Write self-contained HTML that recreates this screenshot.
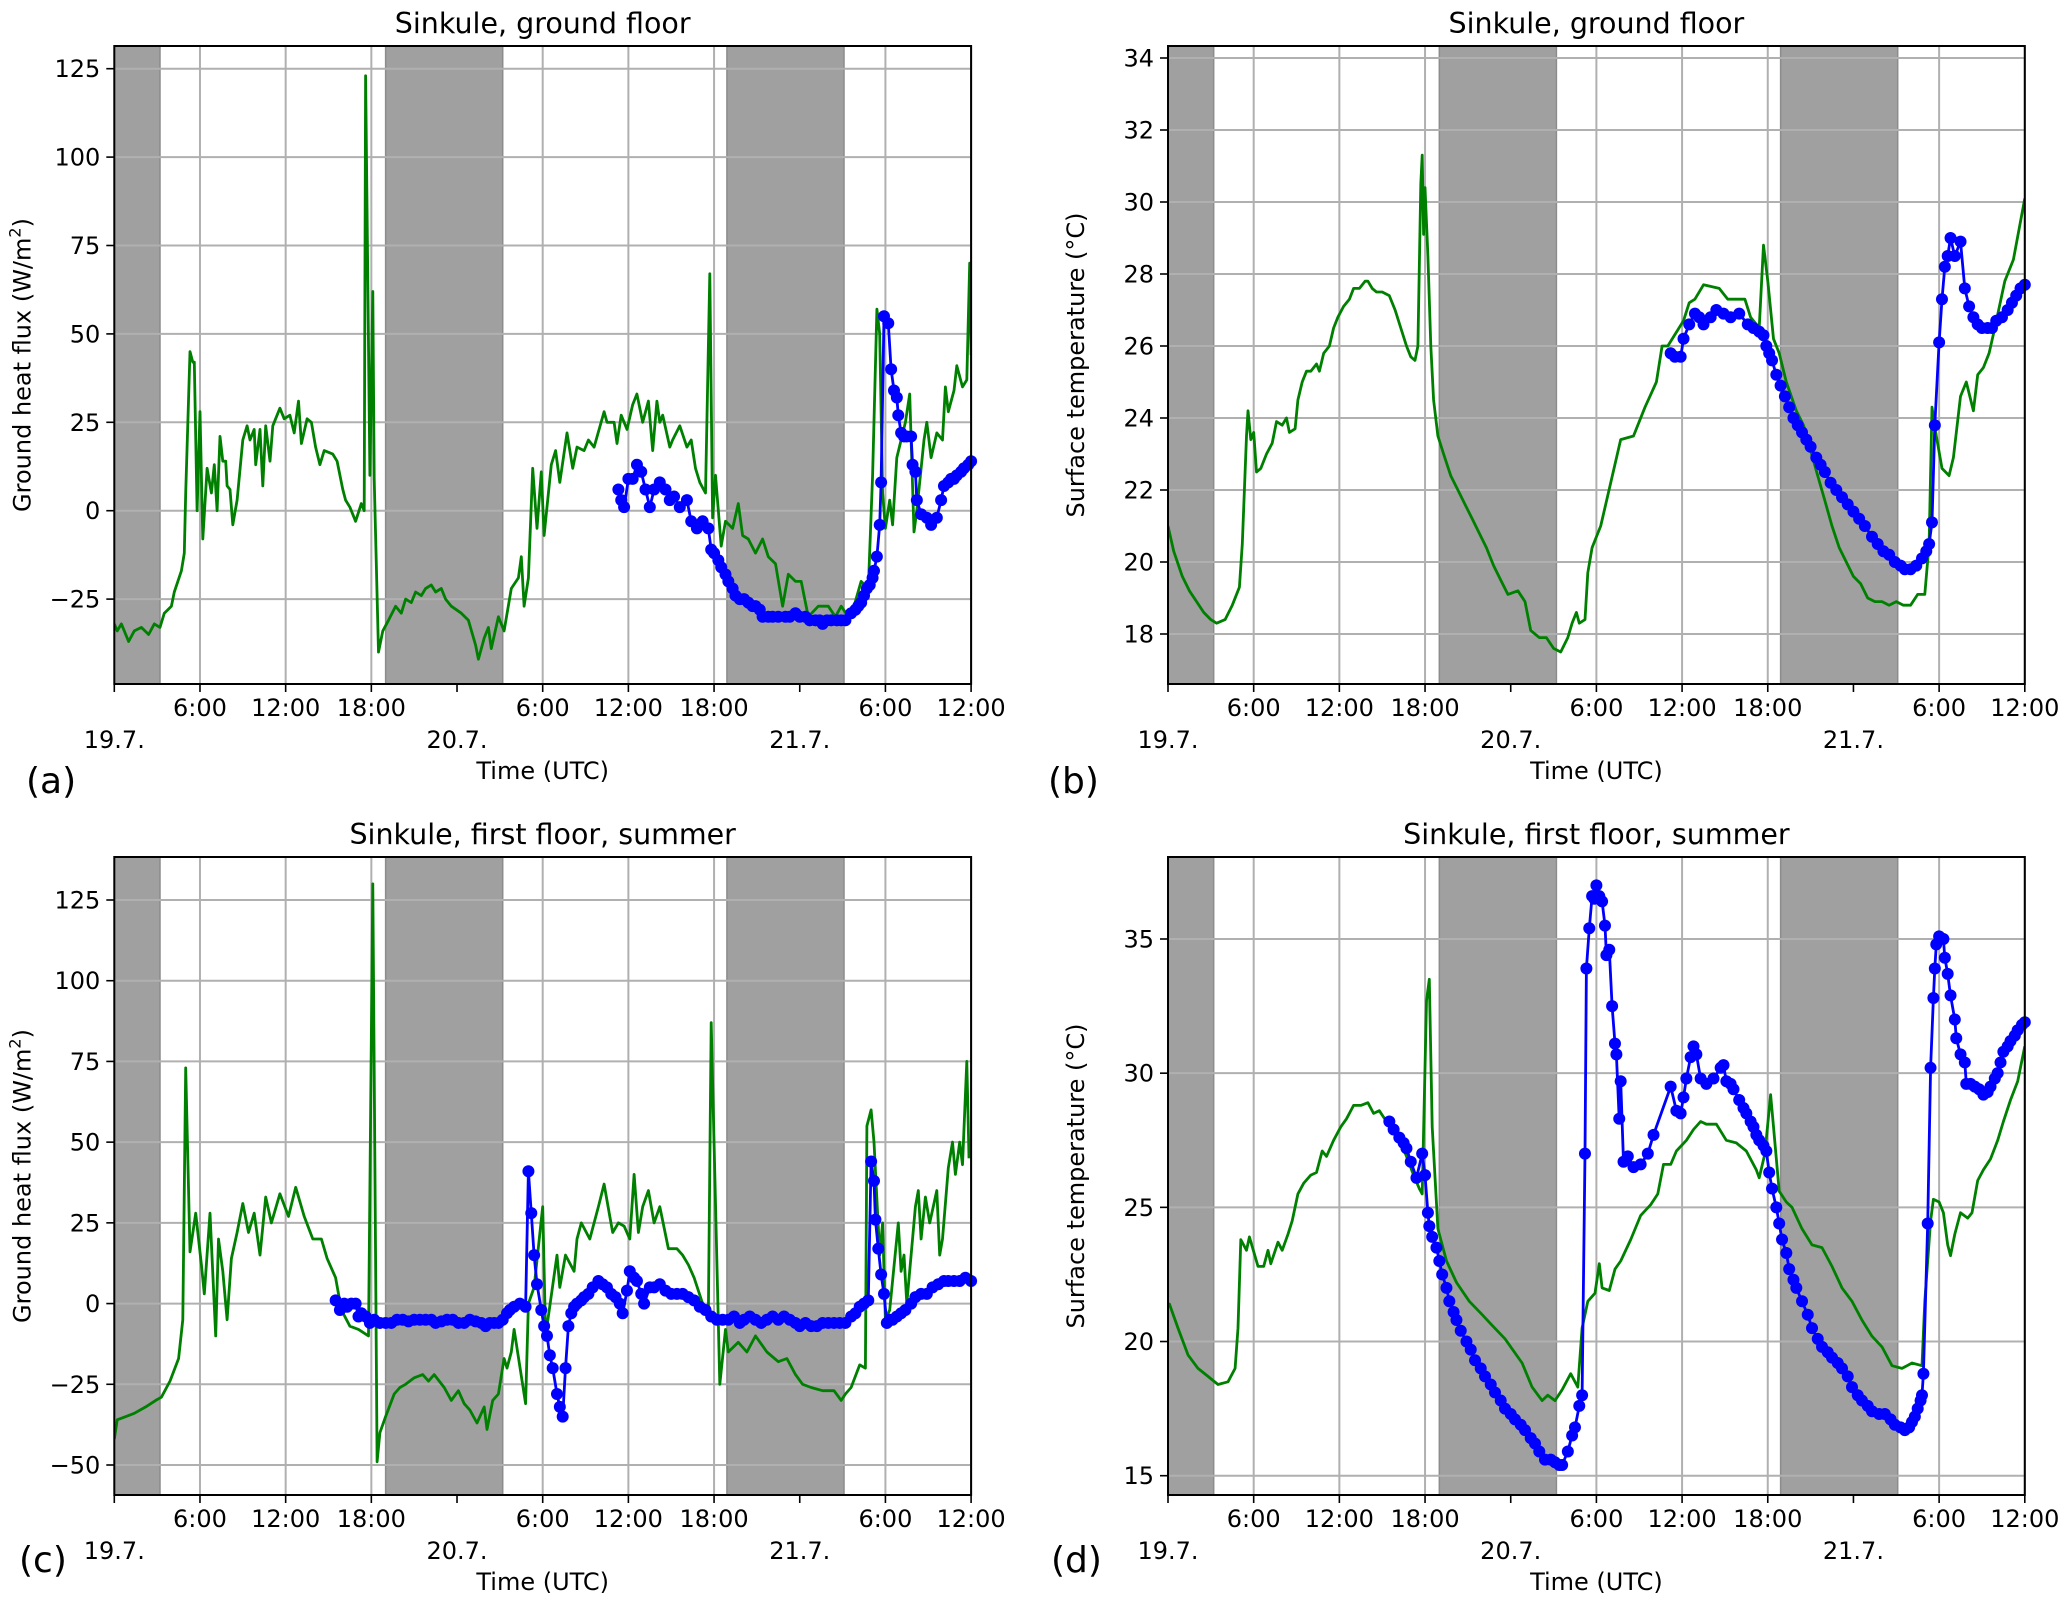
<!DOCTYPE html>
<html><head><meta charset="utf-8">
<style>
html,body{margin:0;padding:0;background:#fff;}
svg{display:block;font-family:"DejaVu Sans","Liberation Sans",sans-serif;}
</style></head>
<body>
<svg id="fig" width="2067" height="1605" viewBox="0 0 2067 1605" xmlns="http://www.w3.org/2000/svg"></svg>
<script>
// ---------- shared axis data ----------
const nightStart = [0, 19.0, 42.9];
const nightEnd = [3.2, 27.2, 51.1];
const hourTicks = [6, 12, 18, 30, 36, 42, 54, 60];
const hourLabels = ["6:00", "12:00", "18:00", "6:00", "12:00", "18:00", "6:00", "12:00"];
const dateTicks = [0, 24, 48];
const dateLabels = ["19.7.", "20.7.", "21.7."];

// ---------- panel (a) ----------
const aYTicks = [-25, 0, 25, 50, 75, 100, 125];
const aGreenT = [0,0.2,0.5,1,1.4,1.9,2.4,2.8,3.2,3.5,4,4.2,4.7,4.9,5.0,5.3,5.5,5.6,5.8,6,6.2,6.5,6.8,7,7.2,7.4,7.6,7.8,7.9,8.1,8.3,8.6,9,9.3,9.5,9.8,9.9,10.2,10.4,10.6,10.9,11.1,11.6,11.9,12.3,12.6,12.9,13.1,13.5,13.8,14.1,14.4,14.7,15.3,15.6,16,16.2,16.5,16.9,17.3,17.5,17.6,17.9,18.1,18.2,18.5,18.8,19.2,19.7,20.1,20.4,20.8,21.1,21.5,21.8,22.2,22.5,22.9,23.2,23.6,24.3,24.8,25.3,25.5,25.9,26.2,26.4,26.9,27.3,27.8,28.3,28.5,28.7,29,29.3,29.6,29.9,30.1,30.6,30.9,31.2,31.7,32.1,32.4,32.9,33.2,33.6,34.3,34.5,35,35.2,35.5,35.9,36.3,36.6,37,37.4,37.7,38,38.2,38.4,38.9,39.1,39.6,40.1,40.4,40.7,41,41.4,41.7,41.9,42.1,42.5,42.8,43.3,43.7,44,44.4,44.9,45.4,45.8,46.3,46.8,47.2,47.7,48.1,48.6,49.3,50,50.5,50.9,51.4,51.8,52.3,52.8,53.1,53.4,53.6,53.8,54,54.3,54.5,54.8,55.1,55.4,55.7,56,56.2,56.7,56.9,57.2,57.6,58,58.2,58.4,58.8,59,59.4,59.7,59.9,60];
const aGreenV = [-32,-34,-32,-37,-34,-33,-35,-32,-33,-29,-27,-23,-17,-12,5,45,42,42,0,28,-8,12,5,13,0,21,14,14,7,6,-4,3,20,24,20,23,13,23,7,24,14,24,29,26,27,22,31,19,26,25,18,13,17,16,14,6,3,1,-3,2,0,123,10,62,9,-40,-34,-31,-27,-29,-25,-26,-23,-24,-22,-21,-23,-22,-25,-27,-29,-31,-38,-42,-36,-33,-39,-30,-34,-22,-19,-13,-27,-19,12,-5,11,-7,13,17,8,22,12,18,17,20,18,28,25,25,19,27,23,30,33,25,31,17,31,25,27,18,20,24,18,20,12,8,5,67,-2,10,-10,-3,-5,2,-7,-8,-12,-8,-13,-15,-27,-18,-20,-20,-30,-27,-27,-30,-27,-30,-27,-20,-22,10,57,50,5,-5,3,-4,15,20,25,33,-6,0,20,25,15,22,20,35,28,34,41,35,37,70,44];
const aBlueT = [35.3,35.5,35.7,36.0,36.3,36.6,36.9,37.2,37.5,37.8,38.2,38.6,38.9,39.2,39.6,40.1,40.4,40.8,41.2,41.6,41.8,42.0,42.3,42.5,42.8,43.0,43.3,43.5,43.8,44.1,44.4,44.7,44.9,45.2,45.4,45.8,46.1,46.5,47.0,47.3,47.7,48.0,48.4,48.7,49.1,49.4,49.6,49.9,50.2,50.6,50.9,51.2,51.6,51.9,52.1,52.3,52.5,52.7,52.9,53.1,53.2,53.4,53.6,53.7,53.9,54.2,54.4,54.6,54.8,54.9,55.1,55.3,55.5,55.8,55.9,56.1,56.2,56.5,56.9,57.2,57.6,57.9,58.1,58.4,58.6,58.8,59,59.3,59.5,59.8,60];
const aBlueV = [6,3,1,9,9,13,11,6,1,6,8,6,3,4,1,3,-3,-5,-3,-5,-11,-12,-14,-16,-18,-20,-22,-24,-25,-25,-26,-27,-27,-28,-30,-30,-30,-30,-30,-30,-29,-30,-30,-31,-31,-31,-32,-31,-31,-31,-31,-31,-29,-28,-27,-26,-24,-22,-21,-19,-17,-13,-4,8,55,53,40,34,32,27,22,21,21,21,13,11,3,-1,-2,-4,-2,3,7,8,9,9,10,11,12,13,14];

// ---------- panel (b) ----------
const bYTicks = [18, 20, 22, 24, 26, 28, 30, 32, 34];
const bGreenT = [0,0.4,1,1.5,2,2.5,3,3.4,4,4.5,5,5.2,5.5,5.6,5.8,6,6.2,6.5,6.9,7.3,7.6,8,8.3,8.5,8.9,9.1,9.4,9.7,10,10.4,10.6,10.9,11.3,11.6,11.9,12.3,12.7,13,13.4,13.8,14,14.3,14.6,15,15.5,15.9,16.3,16.7,17,17.3,17.5,17.7,17.8,17.9,18.0,18.2,18.4,18.6,18.9,19.3,19.8,20.3,20.8,21.3,21.8,22.3,22.8,23.3,23.8,24.5,25,25.4,26,26.5,27,27.5,28,28.3,28.6,28.8,29.2,29.4,29.7,30.3,31,31.7,32.6,33.4,34.2,34.6,35,36.1,36.5,36.9,37.5,38.6,39.2,39.8,40.4,40.8,41.4,41.7,42,42.4,42.8,43.3,44,44.5,45,45.5,46,46.5,47,47.5,48,48.5,49,49.5,50,50.5,51,51.5,52,52.5,53,53.3,53.5,53.8,54.2,54.7,55,55.5,55.9,56.4,56.7,57.1,57.5,57.9,58.6,59.2,60];
const bGreenV = [21,20.3,19.6,19.2,18.9,18.6,18.4,18.3,18.4,18.8,19.3,20.5,23.5,24.2,23.4,23.6,22.5,22.6,23.0,23.3,23.9,23.8,24.0,23.6,23.7,24.5,25.0,25.3,25.3,25.5,25.3,25.8,26.0,26.5,26.8,27.1,27.3,27.6,27.6,27.8,27.8,27.6,27.5,27.5,27.4,27.0,26.5,26.0,25.7,25.6,26.0,30.5,31.3,29.1,30.4,28.5,26.0,24.5,23.5,23.0,22.4,22.0,21.6,21.2,20.8,20.4,19.9,19.5,19.1,19.2,18.9,18.1,17.9,17.9,17.6,17.5,17.9,18.3,18.6,18.3,18.4,19.7,20.4,21.0,22.2,23.4,23.5,24.3,25.0,26.0,26.0,26.7,27.2,27.3,27.7,27.6,27.3,27.3,27.3,26.8,26.5,28.8,27.8,26.2,25.8,25.0,24.2,23.8,23.1,22.4,21.7,21.0,20.4,20.0,19.6,19.4,19.0,18.9,18.9,18.8,18.9,18.8,18.8,19.1,19.1,20.5,24.3,23.5,22.6,22.4,22.9,24.6,25.0,24.2,25.2,25.4,25.8,26.5,27.8,28.4,30.1];
const bBlueT = [35.2,35.5,35.9,36.1,36.5,36.9,37.2,37.5,38.0,38.4,38.9,39.4,40.0,40.6,41.0,41.4,41.7,41.9,42.1,42.3,42.6,42.9,43.2,43.5,43.8,44.1,44.4,44.7,45.0,45.4,45.7,46.0,46.4,46.8,47.2,47.6,48.0,48.4,48.8,49.3,49.7,50.1,50.5,50.9,51.3,51.6,52.0,52.4,52.8,53.1,53.3,53.5,53.7,54.0,54.2,54.4,54.6,54.8,55.1,55.5,55.8,56.1,56.4,56.7,57.0,57.4,57.7,58.0,58.4,58.8,59.1,59.4,59.7,60];
const bBlueV = [25.8,25.7,25.7,26.2,26.6,26.9,26.8,26.6,26.8,27.0,26.9,26.8,26.9,26.6,26.5,26.4,26.3,26.0,25.8,25.6,25.2,24.9,24.6,24.3,24.0,23.8,23.6,23.4,23.2,22.9,22.7,22.5,22.2,22.0,21.8,21.6,21.4,21.2,21.0,20.7,20.5,20.3,20.2,20.0,19.9,19.8,19.8,19.9,20.1,20.3,20.5,21.1,23.8,26.1,27.3,28.2,28.5,29.0,28.5,28.9,27.6,27.1,26.8,26.6,26.5,26.5,26.5,26.7,26.8,27.0,27.2,27.4,27.6,27.7];

// ---------- panel (c) ----------
const cYTicks = [-50, -25, 0, 25, 50, 75, 100, 125];
const cGreenT = [0,0.2,1.4,2.2,2.9,3.3,3.9,4.5,4.8,5.0,5.3,5.7,6.1,6.3,6.7,7.1,7.3,7.6,7.9,8.2,8.6,9.0,9.4,9.8,10.2,10.6,11.0,11.6,12.2,12.7,13.3,13.9,14.5,14.9,15.5,15.9,16.5,17.1,17.8,18.1,18.4,18.6,19.0,19.6,20.0,20.4,21.0,21.6,22.0,22.4,23.1,23.6,24.1,24.5,24.9,25.4,25.9,26.1,26.5,26.9,27.3,27.5,27.8,28.0,28.8,29.0,29.4,30.0,30.2,31.0,31.2,31.6,32.2,32.4,32.7,33.3,33.9,34.3,34.7,34.9,35.3,35.7,36.1,36.4,36.7,37.0,37.4,37.8,38.2,38.8,39.4,39.8,40.2,40.6,41.2,41.6,41.8,42.4,42.8,43.0,43.7,44.3,44.9,45.7,46.5,47.1,47.7,48.2,48.8,49.6,50.4,50.9,51.2,51.6,52.2,52.6,52.7,53.0,53.2,53.6,53.8,54.0,54.3,54.9,55.1,55.3,55.5,56.1,56.3,56.5,56.8,57.1,57.6,57.8,58.0,58.4,58.7,58.9,59.2,59.4,59.7,59.85,60];
const cGreenV = [-42,-36,-34,-32,-30,-29,-24,-17,-5,73,16,28,12,3,28,-10,20,10,-5,14,22,31,22,28,15,33,25,34,27,36,27,20,20,14,8,-2,-7,-8,-10,130,-49,-40,-35,-28,-26,-25,-23,-22,-24,-22,-26,-30,-27,-31,-33,-37,-32,-39,-30,-28,-17,-20,-15,-8,-31,0,5,30,-10,15,5,15,10,20,25,20,30,37,27,22,25,24,20,40,22,30,35,25,30,17,17,15,12,8,0,-5,87,-25,-8,-15,-12,-15,-10,-15,-18,-17,-22,-25,-26,-27,-27,-30,-28,-26,-19,-20,55,60,50,15,25,-5,-2,25,10,15,0,30,35,20,33,25,35,15,20,42,50,40,50,43,75,45];
const cBlueT = [15.5,15.8,16.1,16.3,16.6,16.9,17.1,17.3,17.6,17.9,18.2,18.6,19.0,19.4,19.8,20.2,20.6,21.0,21.4,21.8,22.2,22.5,22.9,23.3,23.7,24.1,24.5,24.9,25.3,25.7,26.0,26.3,26.6,26.9,27.2,27.5,27.7,28.0,28.4,28.8,29.0,29.2,29.4,29.6,29.9,30.1,30.3,30.5,30.7,31.0,31.2,31.4,31.6,31.8,32.0,32.2,32.4,32.7,32.9,33.2,33.5,33.9,34.2,34.5,34.8,35.1,35.4,35.6,35.9,36.1,36.4,36.6,36.9,37.1,37.5,37.8,38.2,38.6,39.0,39.4,39.8,40.2,40.6,41.0,41.4,41.8,42.2,42.6,43.0,43.4,43.8,44.1,44.5,44.9,45.3,45.7,46.1,46.5,46.9,47.3,47.7,48.0,48.4,48.8,49.2,49.6,50.0,50.4,50.8,51.2,51.6,51.9,52.2,52.5,52.8,53.0,53.2,53.3,53.5,53.7,53.9,54.1,54.3,54.5,54.8,55.1,55.4,55.8,56.1,56.5,56.9,57.3,57.7,58.1,58.4,58.8,59.2,59.6,60];
const cBlueV = [1,-2,0,-1,0,0,-4,-3,-4,-6,-5,-6,-6,-6,-5,-5,-5.5,-5,-5,-5,-5,-6,-5.5,-5,-5,-6,-6,-5,-5.5,-6,-7,-6,-6,-6,-5,-3,-2,-1,0,-1,41,28,15,6,-2,-7,-10,-16,-20,-28,-32,-35,-20,-7,-3,-1,0,1,2,3,5,7,6,5,3,2,0,-3,4,10,8,7,3,0,5,5,6,4,3,3,3,2,1,-1,-2,-4,-5,-5,-5,-4,-6,-5,-4,-5,-6,-5,-4,-5,-4,-5,-6,-7,-6,-7,-7,-6,-6,-6,-6,-6,-4,-3,-1,0,1,44,38,26,17,9,3,-6,-5,-5,-4,-3,-2,0,2,3,3,5,6,7,7,7,7,8,7];

// ---------- panel (d) ----------
const dYTicks = [15, 20, 25, 30, 35];
const dGreenT = [0,0.1,0.7,1.4,2.1,2.8,3.5,4.2,4.7,4.9,5.1,5.5,5.7,6.3,6.7,7.0,7.2,7.7,8.0,8.4,8.7,9.1,9.5,10.0,10.4,10.8,11.1,11.6,12.1,12.5,13.0,13.5,14.0,14.4,14.8,15.3,16.0,16.7,17.2,17.6,17.8,18.1,18.3,18.5,18.9,19.5,20.2,21.1,22.0,22.7,23.6,24.8,25.5,26.2,26.6,27.1,27.6,28.2,28.7,29.0,29.4,29.9,30.2,30.4,30.9,31.3,31.7,32.4,33.1,33.8,34.3,34.7,35.2,35.6,36.3,36.8,37.3,37.7,38.4,39.1,39.8,40.5,41.2,41.4,41.8,42.2,42.4,42.8,43.3,43.7,44.4,45.1,45.8,46.5,47.2,47.9,48.6,49.3,50.0,50.7,51.4,52.1,52.8,53.0,53.4,53.6,54.0,54.3,54.6,54.8,55.1,55.5,56.0,56.3,56.7,57.1,57.6,58.1,58.5,59.0,59.5,60];
const dGreenV = [21.4,21.4,20.5,19.5,19.0,18.7,18.4,18.5,19.0,20.5,23.8,23.4,23.9,22.8,22.8,23.4,22.9,23.7,23.4,24.0,24.5,25.5,25.9,26.2,26.3,27.1,26.9,27.5,28.0,28.3,28.8,28.8,28.9,28.5,28.6,28.2,27.8,26.9,26.2,25.7,25.5,32.7,33.5,28.0,24.2,23.0,22.2,21.5,21.0,20.6,20.1,19.2,18.3,17.8,18.0,17.8,18.2,18.8,18.3,20.5,21.5,21.8,22.9,22.0,21.9,22.7,23.0,23.8,24.7,25.1,25.5,26.6,26.6,27.1,27.5,27.9,28.2,28.1,28.1,27.5,27.4,27.1,26.4,26.1,27.0,29.2,28.0,25.6,25.2,25.0,24.2,23.6,23.5,22.8,22.0,21.5,20.8,20.2,19.8,19.1,19.0,19.2,19.1,21.5,24.5,25.3,25.2,24.8,23.6,23.2,24.0,24.8,24.6,24.8,26.0,26.4,26.8,27.5,28.2,29.0,29.7,31.0];
const dBlueT = [15.5,15.8,16.2,16.5,16.7,17.0,17.4,17.8,18.0,18.2,18.3,18.5,18.8,19.0,19.2,19.5,19.7,20.0,20.2,20.5,20.9,21.2,21.5,21.9,22.2,22.6,22.9,23.3,23.6,24.0,24.3,24.7,25.0,25.4,25.7,26.0,26.4,26.8,27.1,27.4,27.6,28.0,28.3,28.5,28.8,29.0,29.2,29.3,29.5,29.7,29.85,30.0,30.2,30.4,30.6,30.7,30.9,31.1,31.3,31.4,31.6,31.7,31.9,32.2,32.6,33.1,33.6,34.0,35.2,35.6,35.9,36.1,36.3,36.6,36.8,37.0,37.3,37.7,38.2,38.7,38.9,39.1,39.4,39.6,40.0,40.3,40.5,40.8,41.0,41.2,41.4,41.7,41.9,42.1,42.3,42.6,42.8,43.0,43.3,43.5,43.8,44.0,44.4,44.8,45.1,45.5,45.8,46.2,46.5,46.9,47.2,47.6,47.9,48.3,48.6,49.0,49.3,49.8,50.2,50.6,50.9,51.3,51.6,51.9,52.1,52.3,52.5,52.7,52.8,52.9,53.2,53.4,53.6,53.7,53.8,54.0,54.3,54.4,54.6,54.8,55.1,55.2,55.5,55.8,55.9,56.2,56.5,56.8,57.1,57.4,57.6,57.9,58.1,58.3,58.5,58.8,59.0,59.3,59.5,59.8,60];
const dBlueV = [28.2,27.9,27.6,27.4,27.2,26.7,26.1,27.0,26.2,24.8,24.3,23.9,23.5,23.0,22.5,22.0,21.5,21.1,20.8,20.4,20.0,19.7,19.3,19.0,18.7,18.4,18.1,17.8,17.5,17.3,17.1,16.9,16.7,16.4,16.2,15.9,15.6,15.6,15.5,15.4,15.4,15.9,16.5,16.8,17.6,18.0,27.0,33.9,35.4,36.6,36.5,37.0,36.6,36.4,35.5,34.4,34.6,32.5,31.1,30.7,28.3,29.7,26.7,26.9,26.5,26.6,27.0,27.7,29.5,28.6,28.5,29.1,29.8,30.6,31.0,30.7,29.8,29.6,29.8,30.2,30.3,29.7,29.6,29.4,29.0,28.7,28.5,28.2,28.0,27.7,27.5,27.3,27.1,26.3,25.7,25.0,24.4,23.8,23.3,22.7,22.3,22.0,21.5,21.0,20.5,20.1,19.8,19.6,19.4,19.2,19.0,18.7,18.3,18.0,17.8,17.6,17.4,17.3,17.3,17.1,16.9,16.8,16.7,16.8,17.0,17.2,17.5,17.8,18.0,18.8,24.4,30.2,32.8,33.9,34.8,35.1,35.0,34.3,33.7,32.9,32.0,31.3,30.7,30.4,29.6,29.6,29.5,29.4,29.2,29.3,29.5,29.8,30.0,30.4,30.8,31.0,31.2,31.4,31.6,31.8,31.9];

// ---------- drawing ----------
const NS = "http://www.w3.org/2000/svg";
const svg = document.getElementById('fig');
function mk(tag, attrs, parent) {
  const e = document.createElementNS(NS, tag);
  for (const k in attrs) e.setAttribute(k, attrs[k]);
  (parent || svg).appendChild(e);
  return e;
}
function txt(s, attrs, parent) { const e = mk('text', attrs, parent); e.textContent = s; return e; }

const panels = [
  {id:'a', L:114.3, T:46, B:684, v1:125, y1:68.7, v2:0, y2:510.7, ticks:aYTicks, gT:aGreenT, gV:aGreenV, bT:aBlueT, bV:aBlueV, title:'Sinkule, ground floor', ylab:'flux', lx:26, ly:793},
  {id:'b', L:1168, T:46, B:684, v1:34, y1:58, v2:18, y2:634, ticks:bYTicks, gT:bGreenT, gV:bGreenV, bT:bBlueT, bV:bBlueV, title:'Sinkule, ground floor', ylab:'temp', lx:1048, ly:793},
  {id:'c', L:114.3, T:857, B:1495, v1:125, y1:900, v2:-50, y2:1465, ticks:cYTicks, gT:cGreenT, gV:cGreenV, bT:cBlueT, bV:cBlueV, title:'Sinkule, first floor, summer', ylab:'flux', lx:19, ly:1572},
  {id:'d', L:1168, T:857, B:1495, v1:35, y1:939, v2:15, y2:1475.7, ticks:dYTicks, gT:dGreenT, gV:dGreenV, bT:dBlueT, bV:dBlueV, title:'Sinkule, first floor, summer', ylab:'temp', lx:1051, ly:1572}
];
const W = 856.8, HPX = W / 60;

panels.forEach(p => {
  const R = p.L + W;
  const X = t => p.L + t * HPX;
  const Y = v => p.y1 + (v - p.v1) * (p.y2 - p.y1) / (p.v2 - p.v1);
  const g = mk('g', {});
  
  
  const clipId = 'clip-' + p.id;
  const cp = mk('clipPath', {id: clipId}, g);
  mk('rect', {x: p.L, y: p.T, width: W, height: p.B - p.T}, cp);

  for (let i = 0; i < nightStart.length; i++) {
    const r = mk('rect', {x: X(nightStart[i]), y: p.T, width: X(nightEnd[i]) - X(nightStart[i]), height: p.B - p.T, fill: '#a0a0a0', stroke: '#8c8c8c', 'stroke-width': 1.5}, g);
    
    
  }
  hourTicks.forEach(t => {
    const l = mk('line', {x1: X(t), x2: X(t), y1: p.T, y2: p.B, stroke: '#b0b0b0', 'stroke-width': 2}, g);
    
    
  });
  p.ticks.forEach(v => {
    const l = mk('line', {x1: p.L, x2: R, y1: Y(v), y2: Y(v), stroke: '#b0b0b0', 'stroke-width': 2}, g);
    
    
  });
  const gp = mk('polyline', {points: p.gT.map((t, i) => X(t).toFixed(1) + ',' + Y(p.gV[i]).toFixed(1)).join(' '), fill: 'none', stroke: '#008000', 'stroke-width': 2.8, 'stroke-linejoin': 'round', 'clip-path': 'url(#' + clipId + ')'}, g);
  
  
  const bp = mk('polyline', {points: p.bT.map((t, i) => X(t).toFixed(1) + ',' + Y(p.bV[i]).toFixed(1)).join(' '), fill: 'none', stroke: '#0000ff', 'stroke-width': 2.8, 'stroke-linejoin': 'round'}, g);
  
  
  p.bT.forEach((t, i) => {
    const c = mk('circle', {cx: X(t), cy: Y(p.bV[i]), r: 6, fill: '#0000ff'}, g);
    
    
  });
  const fr = mk('rect', {x: p.L, y: p.T, width: W, height: p.B - p.T, fill: 'none', stroke: '#000', 'stroke-width': 2}, g);
  
  
  p.ticks.forEach(v => {
    mk('line', {x1: p.L - 8, x2: p.L, y1: Y(v), y2: Y(v), stroke: '#000', 'stroke-width': 1.6}, g);
    const tl = txt(v < 0 ? '\u2212' + Math.abs(v) : String(v), {x: p.L - 14, y: Y(v) + 8.5, 'text-anchor': 'end', 'font-size': 24, fill: '#000'}, g);
    
    
  });
  hourTicks.concat(dateTicks).forEach(t => {
    mk('line', {x1: X(t), x2: X(t), y1: p.B, y2: p.B + 8, stroke: '#000', 'stroke-width': 1.6}, g);
  });
  hourTicks.forEach((t, i) => {
    const tl = txt(hourLabels[i], {x: X(t), y: p.B + 32, 'text-anchor': 'middle', 'font-size': 24, fill: '#000'}, g);
    
    
  });
  dateTicks.forEach((t, i) => {
    const tl = txt(dateLabels[i], {x: X(t), y: p.B + 64, 'text-anchor': 'middle', 'font-size': 24, fill: '#000'}, g);
    
    
  });
  const tt = txt(p.title, {x: p.L + W / 2, y: p.T - 13, 'text-anchor': 'middle', 'font-size': 28.5, fill: '#000'}, g);
  
  
  const xl = txt('Time (UTC)', {x: p.L + W / 2, y: p.B + 95, 'text-anchor': 'middle', 'font-size': 24, fill: '#000'}, g);
  
  
  const yx = p.L - 84, yc = (p.T + p.B) / 2;
  const yl = mk('text', {x: yx, y: yc, 'text-anchor': 'middle', 'font-size': 24, fill: '#000', transform: 'rotate(-90 ' + yx + ' ' + yc + ')'}, g);
  if (p.ylab === 'flux') {
    yl.textContent = 'Ground heat flux (W/m';
    const sup = mk('tspan', {'font-size': 16, dy: -10}, yl); sup.textContent = '2';
    const cl = mk('tspan', {dy: 10}, yl); cl.textContent = ')';
  } else {
    yl.textContent = 'Surface temperature (\u00b0C)';
  }
  
  
  const pl = txt('(' + p.id + ')', {x: p.lx, y: p.ly, 'font-size': 36, fill: '#000'}, g);
  
  
});
</script>
</body></html>
